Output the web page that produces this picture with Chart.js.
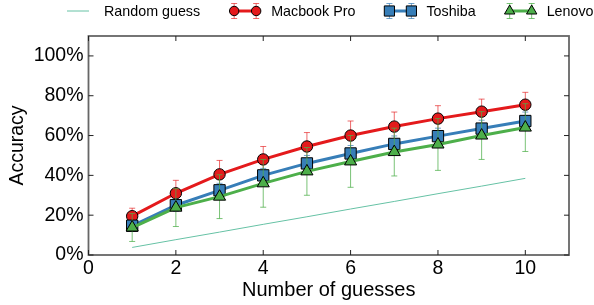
<!DOCTYPE html>
<html>
<head>
<meta charset="utf-8">
<script src="https://cdn.jsdelivr.net/npm/chart.js@4"></script>
<style>
  html, body { margin: 0; padding: 0; background: #fff; }
  #wrap { width: 594px; height: 305px; position: relative; }
</style>
</head>
<body>
<div id="wrap"><canvas id="chart" width="594" height="305"></canvas></div>
<script>
const guesses = [1, 2, 3, 4, 5, 6, 7, 8, 9, 10];
const randomGuess = [3.8, 7.7, 11.5, 15.4, 19.2, 23.1, 26.9, 30.8, 34.6, 38.5];
const macbookPro = [19.5, 31, 40.5, 48, 54.5, 60, 64.5, 68.5, 72, 75.5];
const macbookErr = [4, 6.5, 7, 6.5, 7, 7.3, 7.3, 6.5, 6.3, 6.2];
const toshiba = [14.7, 25, 32.5, 40, 46, 51, 55.8, 59.7, 63.5, 67.3];
const toshibaErr = [2.5, 3, 3.5, 3.5, 4, 4, 4, 4, 4.2, 4.5];
const lenovo = [13.8, 23.8, 29.3, 36, 42, 47, 51.7, 55.5, 60, 64];
const lenovoErr = [7, 9.5, 11, 12, 12, 13, 12, 13, 12, 12];
const xTicks = [0, 2, 4, 6, 8, 10];
const yTicks = [0, 20, 40, 60, 80, 100];

const FONT = "'Liberation Sans', Arial, sans-serif";
const RED = "#e41a1c";
const BLUE = "#377eb8";
const GREEN = "#4daf4a";
const TEAL = "#66c2a5";

function points(ys) {
  return guesses.map((x, i) => ({ x, y: ys[i] }));
}

function drawMarker(ctx, style, x, y, r, fill) {
  ctx.beginPath();
  if (style === "circle") {
    ctx.arc(x, y, r, 0, Math.PI * 2);
  } else if (style === "rect") {
    const s = r * Math.SQRT1_2;
    ctx.rect(x - s, y - s, 2 * s, 2 * s);
  } else {
    ctx.moveTo(x, y - r);
    ctx.lineTo(x + r * 0.866, y + r * 0.5);
    ctx.lineTo(x - r * 0.866, y + r * 0.5);
    ctx.closePath();
  }
  ctx.fillStyle = fill;
  ctx.fill();
  ctx.lineWidth = 1;
  ctx.strokeStyle = "#000";
  ctx.stroke();
}

// error bars go right under their own series
const errorBars = {
  id: "errorBars",
  beforeDatasetDraw(chart, args) {
    const ds = chart.data.datasets[args.index];
    if (!ds.err) return;
    const y = chart.scales.y;
    const ctx = chart.ctx;
    ctx.save();
    ctx.strokeStyle = ds.errColor;
    ctx.lineWidth = 1;
    args.meta.data.forEach((pt, i) => {
      const v = ds.data[i].y;
      const top = y.getPixelForValue(v + ds.err[i]);
      const bot = y.getPixelForValue(v - ds.err[i]);
      ctx.beginPath();
      ctx.moveTo(pt.x, top); ctx.lineTo(pt.x, bot);
      ctx.moveTo(pt.x - 3, top); ctx.lineTo(pt.x + 3, top);
      ctx.moveTo(pt.x - 3, bot); ctx.lineTo(pt.x + 3, bot);
      ctx.stroke();
    });
    ctx.restore();
  }
};

// matplotlib style frame with inward ticks
const frame = {
  id: "frame",
  afterDraw(chart) {
    const { ctx, chartArea: a, scales } = chart;
    const len = 5;
    ctx.save();
    ctx.strokeStyle = "#666";
    ctx.lineWidth = 1.8;
    ctx.strokeRect(a.left, a.top, a.right - a.left, a.bottom - a.top);
    ctx.lineWidth = 1;
    ctx.strokeStyle = "#222";
    ctx.beginPath();
    xTicks.forEach((v) => {
      const px = scales.x.getPixelForValue(v);
      ctx.moveTo(px, a.bottom); ctx.lineTo(px, a.bottom - len);
      ctx.moveTo(px, a.top); ctx.lineTo(px, a.top + len);
    });
    yTicks.forEach((v) => {
      const py = scales.y.getPixelForValue(v);
      ctx.moveTo(a.left, py); ctx.lineTo(a.left + len, py);
      ctx.moveTo(a.right, py); ctx.lineTo(a.right - len, py);
    });
    ctx.stroke();
    ctx.restore();
  }
};

const legendRow = {
  id: "legendRow",
  afterDraw(chart) {
    const ctx = chart.ctx;
    const cy = 11;
    let hx = 67;
    ctx.save();
    ctx.font = "14.3px " + FONT;
    ctx.textBaseline = "middle";
    chart.data.datasets.forEach((ds) => {
      const x1 = hx, x2 = hx + 22;
      if (ds.err) {
        ctx.strokeStyle = ds.errColor;
        ctx.lineWidth = 1;
        ctx.beginPath();
        [x1, x2].forEach((x) => {
          ctx.moveTo(x, cy - 7.5); ctx.lineTo(x, cy + 7.5);
          ctx.moveTo(x - 3, cy - 7.5); ctx.lineTo(x + 3, cy - 7.5);
          ctx.moveTo(x - 3, cy + 7.5); ctx.lineTo(x + 3, cy + 7.5);
        });
        ctx.stroke();
      }
      ctx.strokeStyle = ds.borderColor;
      ctx.lineWidth = ds.borderWidth;
      ctx.beginPath();
      ctx.moveTo(x1, cy); ctx.lineTo(x2, cy);
      ctx.stroke();
      if (ds.err) {
        const r = ds.pointStyle === "rect" ? 7.2 : ds.pointStyle === "circle" ? 4.7 : 6;
        drawMarker(ctx, ds.pointStyle, x1, cy, r, ds.pointBackgroundColor);
        drawMarker(ctx, ds.pointStyle, x2, cy, r, ds.pointBackgroundColor);
      }
      ctx.fillStyle = "#000";
      ctx.fillText(ds.label, hx + 37, cy + 1);
      hx = hx + 37 + ctx.measureText(ds.label).width + 34;
    });
    ctx.restore();
  }
};

new Chart(document.getElementById("chart"), {
  type: "line",
  data: {
    datasets: [
      {
        label: "Random guess",
        data: points(randomGuess),
        borderColor: TEAL,
        borderWidth: 1,
        pointRadius: 0,
        order: 3
      },
      {
        label: "Macbook Pro",
        data: points(macbookPro),
        err: macbookErr,
        errColor: "rgba(228, 26, 28, 0.65)",
        borderColor: RED,
        borderWidth: 3,
        pointStyle: "circle",
        pointRadius: 5.7,
        pointBackgroundColor: RED,
        pointBorderColor: "#000",
        pointBorderWidth: 1,
        order: 2
      },
      {
        label: "Toshiba",
        data: points(toshiba),
        err: toshibaErr,
        errColor: "rgba(55, 126, 184, 0.7)",
        borderColor: BLUE,
        borderWidth: 3,
        pointStyle: "rect",
        pointRadius: 8,
        pointBackgroundColor: BLUE,
        pointBorderColor: "#000",
        pointBorderWidth: 1,
        order: 1
      },
      {
        label: "Lenovo",
        data: points(lenovo),
        err: lenovoErr,
        errColor: "rgba(77, 175, 74, 0.75)",
        borderColor: GREEN,
        borderWidth: 3,
        pointStyle: "triangle",
        pointRadius: 7,
        pointBackgroundColor: GREEN,
        pointBorderColor: "#000",
        pointBorderWidth: 1,
        order: 0
      }
    ]
  },
  options: {
    responsive: false,
    animation: false,
    layout: { padding: { top: 36, right: 25, left: 0, bottom: 0 } },
    plugins: {
      legend: { display: false },
      tooltip: { enabled: false }
    },
    scales: {
      x: {
        type: "linear",
        min: 0,
        max: 11,
        grid: { display: false, drawTicks: false },
        border: { display: false },
        afterBuildTicks: (s) => { s.ticks = xTicks.map((v) => ({ value: v })); },
        afterFit: (s) => { s.height = 50; },
        ticks: { color: "#000", font: { family: FONT, size: 19.5 }, padding: 2, maxRotation: 0 },
        title: {
          display: true,
          text: "Number of guesses",
          color: "#000",
          font: { family: FONT, size: 20 },
          padding: { top: 0, bottom: 3 }
        }
      },
      y: {
        min: 0,
        max: 110,
        grid: { display: false, drawTicks: false },
        border: { display: false },
        afterBuildTicks: (s) => { s.ticks = yTicks.map((v) => ({ value: v })); },
        afterFit: (s) => { s.width = 88.5; },
        ticks: {
          color: "#000",
          font: { family: FONT, size: 19.5 },
          padding: 5,
          callback: (v) => v + "%"
        },
        title: {
          display: true,
          text: "Accuracy",
          color: "#000",
          font: { family: FONT, size: 19.5 },
          padding: { top: 6, bottom: 0 }
        }
      }
    }
  },
  plugins: [errorBars, frame, legendRow]
});
</script>
</body>
</html>
